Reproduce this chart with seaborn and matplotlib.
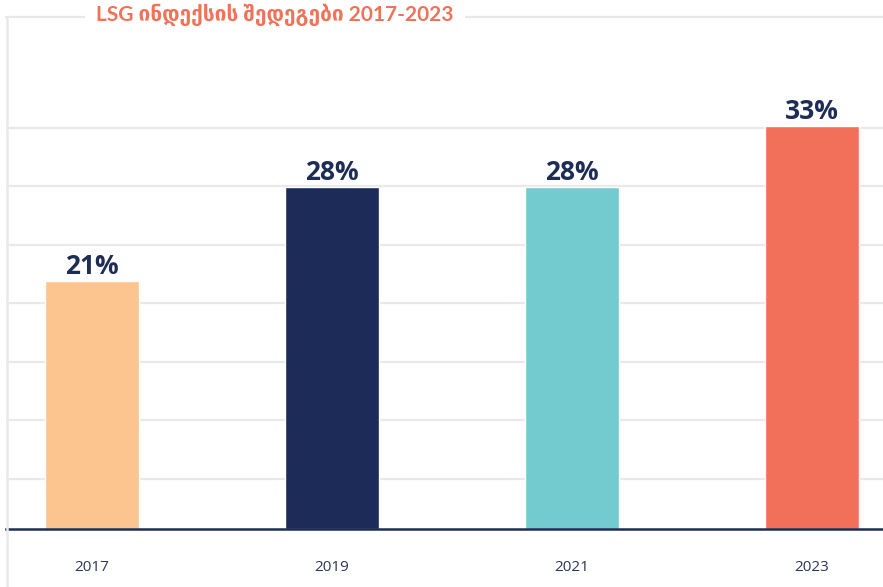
import matplotlib
matplotlib.use('Agg')
import matplotlib.pyplot as plt
from matplotlib.lines import Line2D
import seaborn as sns
import pandas as pd
import numpy as np

years = ["2017", "2019", "2021", "2023"]
scores = [20.3, 28, 28, 33]
labels = ["21%", "28%", "28%", "33%"]
bar_colors = ["#fcc48f", "#1c2b57", "#74cbcf", "#f27059"]
title = "LSG ინდექსის შედეგები 2017-2023"

sns.set_theme(style="white")
plt.rcParams['font.family'] = ['Lato', 'DejaVu Sans']

df = pd.DataFrame({'year': years, 'score': scores})

W, H = 883, 587
fig = plt.figure(figsize=(W / 100, H / 100), dpi=100)
fig.patch.set_facecolor('white')
ax = fig.add_axes([6 / W, (H - 529) / H, 1 - 6 / W, (529 - 17) / H])

sns.barplot(data=df, x='year', y='score', hue='year', order=years,
            palette=bar_colors, width=0.39, legend=False, ax=ax,
            saturation=1, zorder=3)

ax.set_xlim(-0.358, 3.296)
ax.set_ylim(0, 512 / 12.2)
ax.set_yticks(np.arange(4.1, 34, 4.8))
ax.yaxis.grid(True, color='#e9e9e9', linewidth=1.6, zorder=0)
ax.set_yticklabels([])
ax.tick_params(axis='y', length=0)
ax.tick_params(axis='x', length=0, pad=22, labelsize=11, labelcolor='#2b3556')
for t in ax.get_xticklabels():
    t.set_family(['Open Sans', 'DejaVu Sans'])
ax.set_xlabel('')
ax.set_ylabel('')

for side in ['left', 'right']:
    ax.spines[side].set_visible(False)
ax.spines['top'].set_color('#e9e9e9')
ax.spines['top'].set_linewidth(1.6)
ax.spines['bottom'].set_color('#1e2d55')
ax.spines['bottom'].set_linewidth(1.8)
ax.spines['bottom'].set_zorder(5)

# one container per hue level, same order as years
for container, lab in zip(ax.containers, labels):
    ax.bar_label(container, labels=[lab], padding=1, fontsize=19,
                 fontweight='bold', color='#1e2d55',
                 family=['Open Sans', 'DejaVu Sans'])

# left frame line running below the axis
fig.add_artist(Line2D([6.5 / W, 6.5 / W], [0, (H - 17) / H],
                      color='#e9e9e9', linewidth=1.8))

fig.text(275 / W, (H - 15) / H, title, ha='center', va='center',
         fontsize=15, fontweight='bold', color='#f07258',
         bbox=dict(facecolor='white', edgecolor='none', pad=8))

fig.savefig('out.png', dpi=100, facecolor='white')
